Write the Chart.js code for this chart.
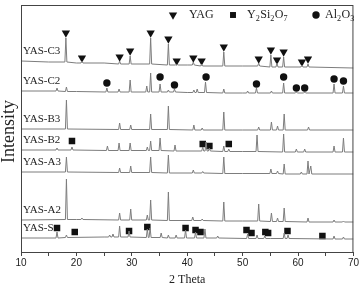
<!DOCTYPE html>
<html>
<head>
<meta charset="utf-8">
<script src="https://cdn.jsdelivr.net/npm/chart.js@4"></script>
<style>
  html, body { margin: 0; padding: 0; background: #fff; }
  #wrap { width: 360px; height: 283px; position: relative; }
</style>
</head>
<body>
<div id="wrap"><canvas id="xrd"></canvas></div>
<script>
// ── Data (2θ in degrees, intensity in arbitrary stacked units) ──
const traceNames = ['YAS-C3', 'YAS-C2', 'YAS-B3', 'YAS-B2', 'YAS-A3', 'YAS-A2', 'YAS-S'];
const xTicks = [10, 20, 30, 40, 50, 60, 70];

// baseline points [2θ, intensity]
const c3Base = [[10,191],[15,190],[20,189],[25,189],[30,188],[40,187],[50,186],[60,185],[70,184]];
const c2Base = [[10,161],[20,160.5],[30,160],[40,159.5],[50,159],[70,159]];
const b3Base = [[10,123],[30,122.5],[50,122],[70,122]];
const b2Base = [[10,102],[30,101.5],[50,100.5],[70,100]];
const a3Base = [[10,80],[30,79.5],[50,78.5],[70,78]];
const a2Base = [[10,32],[20,32.5],[30,32],[50,31],[70,30]];
const sBase  = [[10,14],[25,15],[40,14],[55,13.5],[70,13]];

// peaks [2θ, foot, top]
const c3Peaks = [[18.1,190,214],[21.0,189,191],[27.8,188,191],[29.7,188,196],[33.4,188,214],[36.6,187,208],
  [38.1,187,188],[41.1,187,190],[42.6,186,188],[46.6,186,200],[52.9,186,189],[55.1,185,197],[56.2,185,189],
  [57.4,185,195],[60.7,185,187],[61.8,185,188]];
const c2Peaks = [[16.5,161,164],[18.2,160.5,165],[25.5,160,164],[27.7,160,163],[29.7,160,172],[32.7,160,166],
  [33.4,160,179],[35.1,160,168],[36.6,160,162],[37.7,160,163],[41.2,159.5,162],[41.8,159.5,163],[43.3,159.5,170],
  [46.6,159,163],[50.9,159,161],[52.5,159,164],[55.2,159,161],[57.4,159,169],[59.7,159,160],[61.2,159,160],
  [66.5,159,168],[68.2,159,166]];
const b3Peaks = [[18.2,123,152],[27.8,122.5,129],[29.8,122.5,127],[33.4,122.5,138],[36.6,122.5,146],[41.2,122,127],
  [42.7,122,124],[46.6,122,140],[52.9,122,125],[55.2,122,130],[56.3,122,126],[57.5,122,138],[61.9,122,125]];
const b2Peaks = [[16.5,102,104],[19.2,102,105],[25.6,101.5,106],[27.7,101.5,109],[29.7,101.5,109],[32.8,101.5,105],
  [33.4,101.5,111],[35.1,101.5,114],[37.8,101,107],[42.8,101,105],[43.4,101,110],[44.0,101,104],[46.6,100.5,106],
  [47.5,100.5,103],[52.6,100.5,117],[57.4,100,118],[59.7,100,103],[61.2,100,103],[66.5,100,106],[68.2,100,114]];
const a3Peaks = [[18.2,80,95],[27.8,79.5,84],[29.8,79.5,86],[33.4,79.5,95],[36.6,79,97],[41.1,79,82],[42.8,79,80.5],
  [46.6,78.5,95],[55.1,78.5,83],[56.3,78.5,81],[57.5,78,88],[60.6,78,80],[61.8,78,91],[62.3,78,86]];
const a2Peaks = [[18.2,32.5,73],[21.0,32.5,34],[27.8,32,39],[29.8,32,43],[32.8,32,37],[33.4,32,52],[36.6,31.5,60],
  [41.0,31.5,35],[42.7,31.5,33],[46.6,31,50],[52.9,31,48],[55.2,30.5,39],[56.3,30.5,34],[57.5,30.5,44],
  [61.8,30,34],[66.5,30,32],[68.2,30,31]];
const sPeaks = [[16.5,14,20],[18.2,14.5,17],[26.0,15,17],[26.6,15,18],[27.8,15,26],[29.5,15,21],[32.8,14.5,23],
  [33.3,14.5,24],[35.3,14.5,19],[36.6,14,17],[38.0,14,17],[39.7,14,22],[41.5,14,20],[43.2,14,23],[45.5,14,16],
  [50.9,13.5,18],[52.6,13.5,17],[54.0,13.5,16],[57.5,13.5,19],[58.2,13.5,17],[66.5,13,16],[68.2,13,15]];

// phase markers [2θ, intensity]
const yagMarks = [[18.1,219],[21.0,194],[27.8,195],[29.7,201],[33.4,219],[36.6,213],[38.1,191],[41.1,194],
  [42.6,191],[46.6,205],[52.9,193],[55.1,202],[56.2,192],[57.4,200],[60.7,190],[61.8,193]];
const ysoMarks = [[19.2,111],[42.8,108],[44.0,106],[47.5,108],
  [16.5,24],[19.7,20],[29.5,21],[32.8,25],[39.7,24],[41.5,22],[42.4,20],[50.7,22],[51.6,19],[54.1,20],
  [54.6,19],[58.1,21],[64.4,16]];
const aloMarks = [[25.5,169],[35.1,175],[37.7,167],[43.4,175],[52.5,168],[57.4,175],[59.7,164],[61.2,164],
  [66.5,173],[68.2,171]];

const bases = [c3Base, c2Base, b3Base, b2Base, a3Base, a2Base, sBase];
const peaks = [c3Peaks, c2Peaks, b3Peaks, b2Peaks, a3Peaks, a2Peaks, sPeaks];

// ── helpers ──
const PW = 0.18; // half width of a peak foot, deg
function buildTrace(base, pk) {
  const pts = base.map(([x, y]) => ({ x, y }));
  pk.forEach(([x, foot, top]) => {
    pts.push({ x: x - PW, y: foot }, { x, y: top }, { x: x + PW, y: foot });
  });
  return pts.sort((a, b) => a.x - b.x);
}
const toXY = arr => arr.map(([x, y]) => ({ x, y }));

const SERIF = '"Liberation Serif", "Times New Roman", serif';
const SANS = '"Liberation Sans", Arial, sans-serif';

const datasets = traceNames.map((name, i) => ({
  type: 'line',
  label: name,
  data: buildTrace(bases[i], peaks[i]),
  borderColor: '#7d7d7d',
  borderWidth: 1,
  pointRadius: 0,
  tension: 0
}));

datasets.push(
  { type: 'scatter', label: 'YAG', data: toXY(yagMarks), pointStyle: 'triangle', rotation: 180,
    pointRadius: 4.8, backgroundColor: '#111', borderColor: '#111', borderWidth: 0 },
  { type: 'scatter', label: 'Y2Si2O7', data: toXY(ysoMarks), pointStyle: 'rect',
    pointRadius: 4.6, backgroundColor: '#111', borderColor: '#111', borderWidth: 0 },
  { type: 'scatter', label: 'Al2O3', data: toXY(aloMarks), pointStyle: 'circle',
    pointRadius: 3.7, backgroundColor: '#111', borderColor: '#111', borderWidth: 0 }
);

// draw text with subscript parts: [[text, isSub], ...]
function drawSub(ctx, x, y, parts, size) {
  let cx = x;
  parts.forEach(([t, sub]) => {
    ctx.font = (sub ? size * 0.68 : size) + 'px ' + SERIF;
    ctx.fillText(t, cx, sub ? y + size * 0.28 : y);
    cx += ctx.measureText(t).width + (sub ? 0.5 : 0);
  });
}

const decor = {
  id: 'decor',
  afterDraw(chart) {
    const { ctx, chartArea: a, scales } = chart;
    ctx.save();
    // frame
    ctx.strokeStyle = '#444';
    ctx.lineWidth = 1;
    ctx.strokeRect(a.left + 0.5, a.top + 0.5, a.right - a.left - 1, a.bottom - a.top);

    ctx.fillStyle = '#222';
    ctx.textBaseline = 'middle';
    // sample labels
    ctx.font = '11px ' + SERIF;
    traceNames.forEach((n, i) => {
      const y = scales.y.getPixelForValue(bases[i][0][1]) - 10;
      ctx.fillText(n, a.left + 2, y);
    });

    // legend
    const ly = 15;
    const mark = (style, x, r, rot) =>
      Chart.helpers.drawPoint(ctx, { pointStyle: style, radius: r, rotation: rot || 0 }, x, ly);
    ctx.fillStyle = '#111';
    ctx.strokeStyle = '#111';
    mark('triangle', 173, 4.8, 180);
    mark('rect', 233, 4.2);
    mark('circle', 316, 3.7);
    ctx.fillStyle = '#222';
    ctx.font = '12px ' + SERIF;
    ctx.fillText('YAG', 189, ly);
    drawSub(ctx, 247, ly, [['Y', 0], ['2', 1], ['Si', 0], ['2', 1], ['O', 0], ['7', 1]], 12);
    drawSub(ctx, 325, ly, [['Al', 0], ['2', 1], ['O', 0], ['3', 1]], 12);

    // axis titles
    ctx.textAlign = 'center';
    ctx.font = '12px ' + SERIF;
    ctx.fillText('2 Theta', (a.left + a.right) / 2, 280);
    ctx.translate(9, (a.top + a.bottom) / 2 + 3);
    ctx.rotate(-Math.PI / 2);
    ctx.font = '18px ' + SERIF;
    ctx.fillText('Intensity', 0, 0);
    ctx.restore();
  }
};

new Chart(document.getElementById('xrd'), {
  type: 'line',
  data: { datasets },
  options: {
    responsive: true,
    maintainAspectRatio: false,
    animation: false,
    events: [],
    layout: { padding: { top: 5, right: 6, left: 0, bottom: 0 } },
    plugins: { legend: { display: false }, tooltip: { enabled: false } },
    scales: {
      x: {
        type: 'linear',
        min: xTicks[0],
        max: xTicks[xTicks.length - 1],
        afterFit: s => { s.height = 31; },
        border: { display: true, color: '#444', width: 1 },
        grid: { drawOnChartArea: false, drawTicks: true, tickLength: 4, color: '#444' },
        ticks: {
          stepSize: 5,
          color: '#222',
          padding: 1,
          maxRotation: 0,
          font: { family: SANS, size: 10 },
          callback: v => (xTicks.includes(v) ? v : '')
        }
      },
      y: {
        min: 0,
        max: 247,
        afterFit: s => { s.width = 21; },
        border: { display: true, color: '#444', width: 1 },
        grid: { display: false },
        ticks: { display: false }
      }
    }
  },
  plugins: [decor]
});
</script>
</body>
</html>
